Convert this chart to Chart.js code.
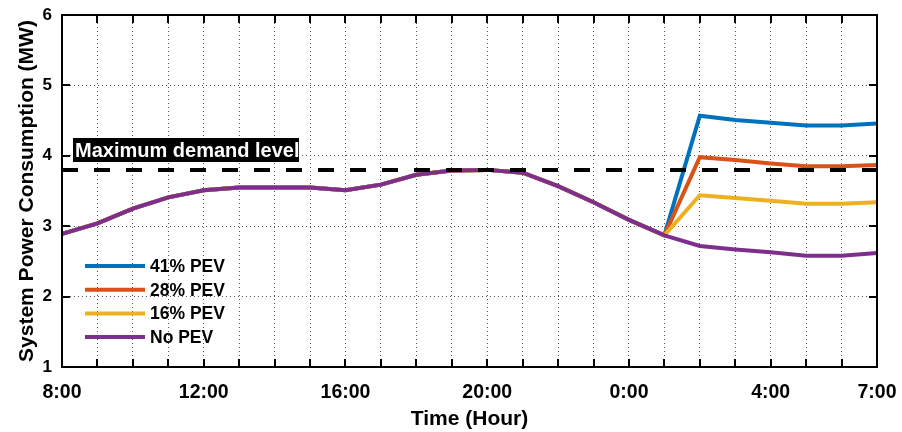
<!DOCTYPE html>
<html>
<head>
<meta charset="utf-8">
<title>System Power Consumption</title>
<script src="https://cdn.jsdelivr.net/npm/chart.js@4/dist/chart.umd.min.js"></script>
<style>
  html, body { margin: 0; padding: 0; background: #fff; }
  #wrap { width: 902px; height: 432px; position: relative; }
</style>
</head>
<body>
<div id="wrap"><canvas id="load"></canvas></div>
<script>
// hourly samples, 8:00 through 7:00 next morning
const hours = ['8:00', '9:00', '10:00', '11:00', '12:00', '13:00', '14:00', '15:00',
    '16:00', '17:00', '18:00', '19:00', '20:00', '21:00', '22:00', '23:00',
    '0:00', '1:00', '2:00', '3:00', '4:00', '5:00', '6:00', '7:00'];
const shownTicks = ['8:00', '12:00', '16:00', '20:00', '0:00', '4:00', '7:00'];
const yTicks = [1, 2, 3, 4, 5, 6];

// MW
const noPev = [2.89, 3.04, 3.25, 3.41, 3.51, 3.55, 3.55, 3.55,
    3.51, 3.59, 3.73, 3.79, 3.80, 3.76, 3.57, 3.34,
    3.09, 2.87, 2.72, 2.67, 2.63, 2.58, 2.58, 2.62];
const pev16 = [2.89, 3.04, 3.25, 3.41, 3.51, 3.55, 3.55, 3.55,
    3.51, 3.59, 3.73, 3.79, 3.80, 3.76, 3.57, 3.34,
    3.09, 2.87, 3.44, 3.40, 3.36, 3.32, 3.32, 3.34];
const pev28 = [2.89, 3.04, 3.25, 3.41, 3.51, 3.55, 3.55, 3.55,
    3.51, 3.59, 3.73, 3.79, 3.80, 3.76, 3.57, 3.34,
    3.09, 2.87, 3.98, 3.94, 3.89, 3.85, 3.85, 3.87];
const pev41 = [2.89, 3.04, 3.25, 3.41, 3.51, 3.55, 3.55, 3.55,
    3.51, 3.59, 3.73, 3.79, 3.80, 3.76, 3.57, 3.34,
    3.09, 2.87, 4.57, 4.51, 4.47, 4.43, 4.43, 4.46];
const maxDemand = 3.8;

const seriesNames = ['41% PEV', '28% PEV', '16% PEV', 'No PEV'];
const seriesColors = ['#0072BD', '#D95319', '#EDB120', '#7E2F8E'];

const FONT = "'Liberation Sans', Arial, Helvetica, sans-serif";

function lineSet(label, data, color, order) {
    return {
        label: label,
        data: data,
        borderColor: color,
        backgroundColor: color,
        borderWidth: 4,
        pointRadius: 0,
        tension: 0,
        order: order
    };
}

// box around the plot with short inward ticks, legend, demand label
const decorations = {
    id: 'decorations',
    afterDraw(chart) {
        const ctx = chart.ctx;
        const a = chart.chartArea;
        const xs = chart.scales.x;
        const ys = chart.scales.y;
        ctx.save();
        ctx.strokeStyle = '#000';
        ctx.lineWidth = 2;
        ctx.strokeRect(a.left, a.top, a.right - a.left, a.bottom - a.top);

        ctx.beginPath();
        for (let i = 1; i < hours.length - 1; i++) {
            const px = Math.round(xs.getPixelForValue(i));
            ctx.moveTo(px, a.bottom); ctx.lineTo(px, a.bottom - 8);
            ctx.moveTo(px, a.top); ctx.lineTo(px, a.top + 8);
        }
        for (let j = 1; j < yTicks.length - 1; j++) {
            const py = Math.round(ys.getPixelForValue(yTicks[j]));
            ctx.moveTo(a.left, py); ctx.lineTo(a.left + 8, py);
            ctx.moveTo(a.right, py); ctx.lineTo(a.right - 8, py);
        }
        ctx.stroke();

        // "Maximum demand level" tag
        ctx.fillStyle = '#000';
        ctx.fillRect(73, 138, 226, 24);
        ctx.fillStyle = '#fff';
        ctx.font = 'bold 20px ' + FONT;
        ctx.textBaseline = 'middle';
        ctx.textAlign = 'left';
        ctx.fillText('Maximum demand level', 75, 151);

        // legend
        ctx.font = 'bold 17.5px ' + FONT;
        ctx.lineWidth = 4;
        for (let k = 0; k < seriesNames.length; k++) {
            const y = 266 + k * 23.7;
            ctx.strokeStyle = seriesColors[k];
            ctx.beginPath();
            ctx.moveTo(85, y); ctx.lineTo(145, y);
            ctx.stroke();
            ctx.fillStyle = '#000';
            ctx.fillText(seriesNames[k], 150, y + 1);
        }
        ctx.restore();
    }
};

new Chart(document.getElementById('load'), {
    type: 'line',
    data: {
        labels: hours,
        datasets: [
            lineSet(seriesNames[0], pev41, seriesColors[0], 5),
            lineSet(seriesNames[1], pev28, seriesColors[1], 4),
            lineSet(seriesNames[2], pev16, seriesColors[2], 3),
            lineSet(seriesNames[3], noPev, seriesColors[3], 2),
            {
                label: 'Maximum demand level',
                data: hours.map(() => maxDemand),
                borderColor: '#000',
                borderWidth: 4,
                borderDash: [16, 16],
                pointRadius: 0,
                order: 1
            }
        ]
    },
    options: {
        responsive: true,
        maintainAspectRatio: false,
        animation: false,
        layout: { padding: { top: 15, right: 25, left: 0, bottom: 0 } },
        plugins: {
            legend: { display: false },
            tooltip: { enabled: false }
        },
        scales: {
            x: {
                type: 'category',
                offset: false,
                afterFit(scale) {
                    scale.height = 65;
                    scale.paddingLeft = 0;
                    scale.paddingRight = 0;
                },
                grid: { color: '#555', lineWidth: 1, drawTicks: false },
                border: { display: false, dash: [1, 3] },
                ticks: {
                    autoSkip: false,
                    maxRotation: 0,
                    padding: 14,
                    color: '#000',
                    font: { family: FONT, size: 19.5, weight: 'bold' },
                    callback: (v, i) => shownTicks.includes(hours[i]) ? hours[i] : ''
                },
                title: {
                    display: true,
                    text: 'Time (Hour)',
                    color: '#000',
                    font: { family: FONT, size: 21, weight: 'bold' },
                    padding: { top: 0, bottom: 0 }
                }
            },
            y: {
                min: 1,
                max: 6,
                afterFit(scale) {
                    scale.width = 62;
                    scale.paddingTop = 0;
                    scale.paddingBottom = 0;
                },
                afterBuildTicks(scale) { scale.ticks = yTicks.map(v => ({ value: v })); },
                grid: { color: '#555', lineWidth: 1, drawTicks: false },
                border: { display: false, dash: [1, 3] },
                ticks: {
                    padding: 10,
                    color: '#000',
                    font: { family: FONT, size: 17, weight: 'bold' }
                },
                title: {
                    display: true,
                    text: 'System Power Consumption (MW)',
                    color: '#000',
                    font: { family: FONT, size: 21, weight: 'bold' },
                    padding: { top: 15, bottom: 0 }
                }
            }
        }
    },
    plugins: [decorations]
});
</script>
</body>
</html>
